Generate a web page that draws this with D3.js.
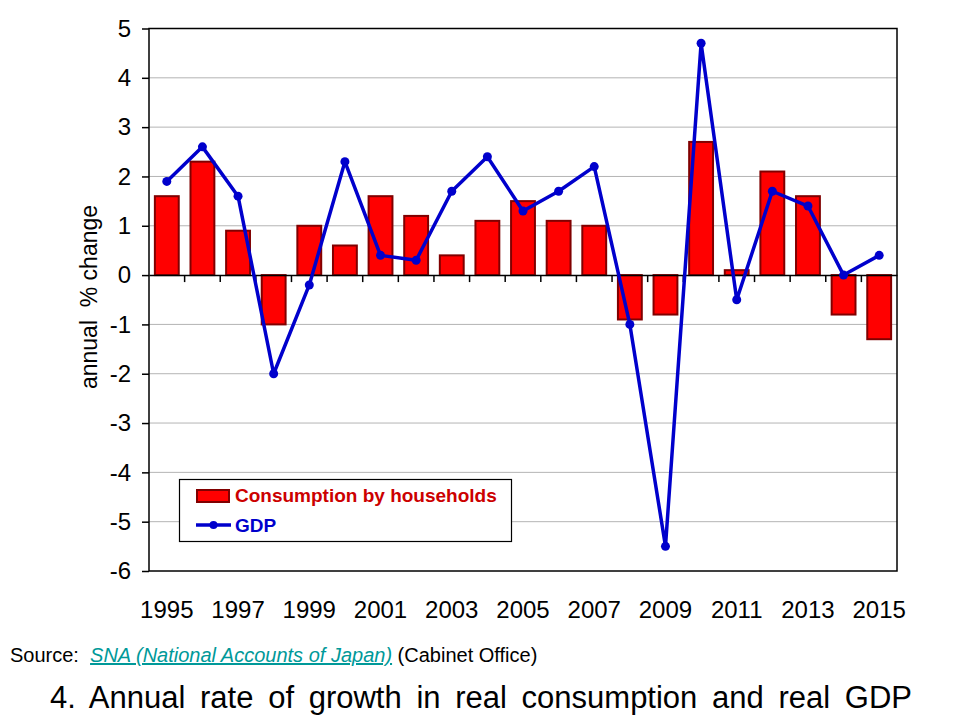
<!DOCTYPE html>
<html>
<head>
<meta charset="utf-8">
<script src="https://cdn.jsdelivr.net/npm/d3@7"></script>
<style>
  body { margin: 0; background: #fff; }
  svg { display: block; font-family: Arial, "Liberation Sans", sans-serif; }
</style>
</head>
<body>
<svg width="960" height="720"></svg>
<script>
const years = [1995, 1996, 1997, 1998, 1999, 2000, 2001, 2002, 2003, 2004, 2005,
  2006, 2007, 2008, 2009, 2010, 2011, 2012, 2013, 2014, 2015];
const consumption = [1.6, 2.3, 0.9, -1.0, 1.0, 0.6, 1.6, 1.2, 0.4, 1.1, 1.5,
  1.1, 1.0, -0.9, -0.8, 2.7, 0.1, 2.1, 1.6, -0.8, -1.3];
const gdp = [1.9, 2.6, 1.6, -2.0, -0.2, 2.3, 0.4, 0.3, 1.7, 2.4, 1.3,
  1.7, 2.2, -1.0, -5.5, 4.7, -0.5, 1.7, 1.4, 0.0, 0.4];
const yTicks = [5, 4, 3, 2, 1, 0, -1, -2, -3, -4, -5, -6];
const yearLabels = [1995, 1997, 1999, 2001, 2003, 2005, 2007, 2009, 2011, 2013, 2015];

const svg = d3.select('svg');
const plotLeft = 149, plotRight = 897, plotTop = 28.5, plotBottom = 571;

const x = d3.scaleBand()
  .domain(years)
  .range([plotLeft, plotRight])
  .paddingInner(0.33)
  .paddingOuter(0.165);

const y = d3.scaleLinear()
  .domain([-6, 5])
  .range([plotBottom, plotTop]);

// gridlines
svg.append('g')
  .selectAll('line')
  .data(yTicks.filter((d) => d !== 0 && d !== 5 && d !== -6))
  .enter()
  .append('line')
  .attr('x1', plotLeft)
  .attr('x2', plotRight)
  .attr('y1', (d) => y(d))
  .attr('y2', (d) => y(d))
  .attr('stroke', '#b4b4b4')
  .attr('stroke-width', 1);

// bars
svg.append('g')
  .selectAll('rect')
  .data(consumption)
  .enter()
  .append('rect')
  .attr('x', (d, i) => x(years[i]))
  .attr('width', x.bandwidth())
  .attr('y', (d) => y(Math.max(0, d)))
  .attr('height', (d) => Math.abs(y(d) - y(0)))
  .attr('fill', '#ff0000')
  .attr('stroke', '#800000')
  .attr('stroke-width', 2);

// plot frame
svg.append('rect')
  .attr('x', plotLeft)
  .attr('y', plotTop)
  .attr('width', plotRight - plotLeft)
  .attr('height', plotBottom - plotTop)
  .attr('fill', 'none')
  .attr('stroke', '#000')
  .attr('stroke-width', 1.5);

// zero axis with category ticks
const xAxis = d3.axisBottom(x)
  .tickSize(0)
  .tickFormat('');
const xg = svg.append('g')
  .attr('transform', `translate(0,${y(0)})`)
  .call(xAxis);
xg.select('.domain').attr('stroke', '#000').attr('stroke-width', 1.5);
xg.selectAll('.tick').remove();

const step = x.step();
xg.selectAll('line.cat')
  .data(years.slice(1))
  .enter()
  .append('line')
  .attr('class', 'cat')
  .attr('x1', (d) => x(d) - step * x.paddingInner() / 2)
  .attr('x2', (d) => x(d) - step * x.paddingInner() / 2)
  .attr('y1', 0)
  .attr('y2', 7)
  .attr('stroke', '#000')
  .attr('stroke-width', 1.5);

// y axis
const yAxis = d3.axisLeft(y)
  .tickValues(yTicks)
  .tickSize(7)
  .tickPadding(11)
  .tickFormat((d) => String(d));
const yg = svg.append('g')
  .attr('transform', `translate(${plotLeft},0)`)
  .call(yAxis);
yg.select('.domain').remove();
yg.selectAll('.tick line').attr('stroke', '#000').attr('stroke-width', 1.5);
yg.selectAll('.tick text')
  .attr('font-family', 'Arial, "Liberation Sans", sans-serif')
  .attr('font-size', 24)
  .attr('fill', '#000');

// year labels
svg.append('g')
  .selectAll('text')
  .data(yearLabels)
  .enter()
  .append('text')
  .attr('x', (d) => x(d) + x.bandwidth() / 2)
  .attr('y', 618)
  .attr('text-anchor', 'middle')
  .attr('font-size', 24)
  .attr('fill', '#000')
  .text((d) => d);

// y title
svg.append('text')
  .attr('transform', 'translate(97,297) rotate(-90)')
  .attr('text-anchor', 'middle')
  .attr('font-size', 23)
  .attr('fill', '#000')
  .attr('xml:space', 'preserve')
  .text('annual  % change');

// GDP line
const line = d3.line()
  .x((d, i) => x(years[i]) + x.bandwidth() / 2)
  .y((d) => y(d));

svg.append('path')
  .datum(gdp)
  .attr('d', line)
  .attr('fill', 'none')
  .attr('stroke', '#0000cc')
  .attr('stroke-width', 3.5)
  .attr('stroke-linejoin', 'round');

svg.append('g')
  .selectAll('circle')
  .data(gdp)
  .enter()
  .append('circle')
  .attr('cx', (d, i) => x(years[i]) + x.bandwidth() / 2)
  .attr('cy', (d) => y(d))
  .attr('r', 4.5)
  .attr('fill', '#0000cc');

// legend
const legend = svg.append('g');
legend.append('rect')
  .attr('x', 179.5)
  .attr('y', 479.5)
  .attr('width', 332)
  .attr('height', 62)
  .attr('fill', '#fff')
  .attr('stroke', '#000')
  .attr('stroke-width', 1.2);
legend.append('rect')
  .attr('x', 197)
  .attr('y', 490)
  .attr('width', 32)
  .attr('height', 12)
  .attr('fill', '#ff0000')
  .attr('stroke', '#800000')
  .attr('stroke-width', 2);
legend.append('text')
  .attr('x', 235)
  .attr('y', 502)
  .attr('font-size', 19)
  .attr('font-weight', 'bold')
  .attr('fill', '#cc0000')
  .text('Consumption by households');
legend.append('line')
  .attr('x1', 196)
  .attr('x2', 231)
  .attr('y1', 525)
  .attr('y2', 525)
  .attr('stroke', '#0000cc')
  .attr('stroke-width', 3.5);
legend.append('circle')
  .attr('cx', 213.5)
  .attr('cy', 525)
  .attr('r', 4)
  .attr('fill', '#0000cc');
legend.append('text')
  .attr('x', 235)
  .attr('y', 532)
  .attr('font-size', 19)
  .attr('font-weight', 'bold')
  .attr('fill', '#0000cc')
  .text('GDP');

// source line
const src = svg.append('text')
  .attr('x', 10)
  .attr('y', 662)
  .attr('font-size', 20)
  .attr('fill', '#000')
  .attr('xml:space', 'preserve');
src.append('tspan').text('Source:  ');
src.append('tspan')
  .attr('fill', '#009999')
  .attr('font-style', 'italic')
  .attr('text-decoration', 'underline')
  .text('SNA (National Accounts of Japan)');
src.append('tspan').text(' (Cabinet Office)');

// title, words spread to the reference width
const titleText = '4. Annual rate of growth in real consumption and real GDP';
const title = svg.append('text')
  .attr('x', 50)
  .attr('y', 708)
  .attr('font-size', 31)
  .attr('fill', '#000')
  .text(titleText);
const natural = title.node().getComputedTextLength();
const gaps = titleText.split(' ').length - 1;
title.attr('word-spacing', Math.max(0, (862 - natural) / gaps));
</script>
</body>
</html>
